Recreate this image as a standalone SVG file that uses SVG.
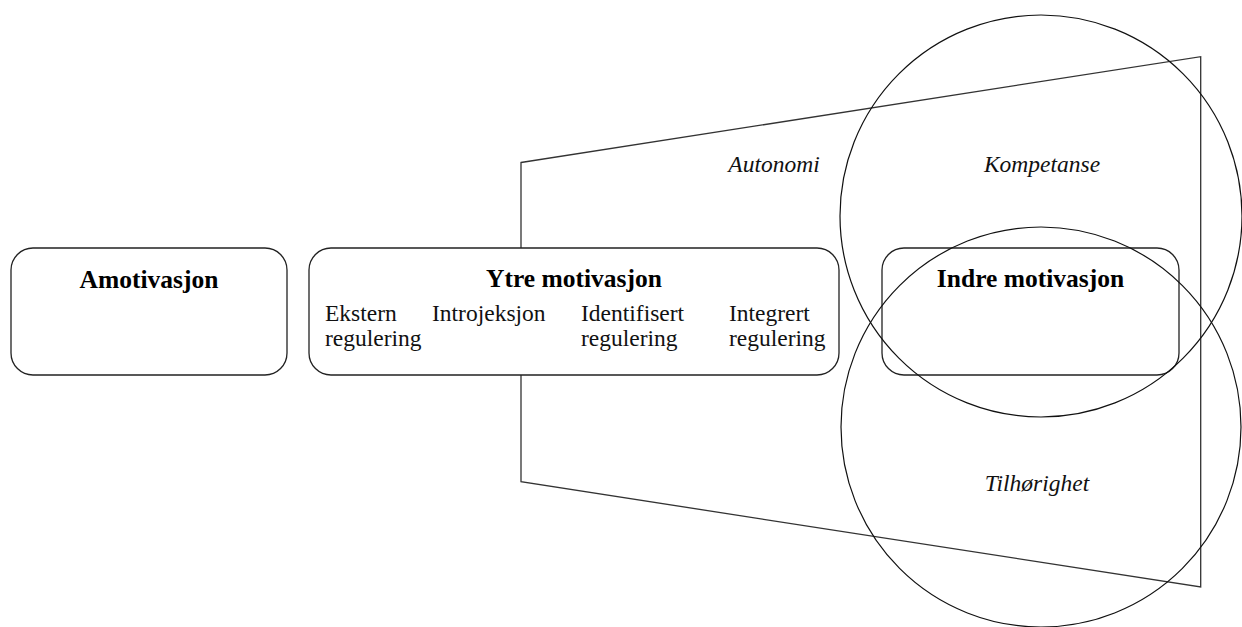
<svg xmlns="http://www.w3.org/2000/svg" width="1242" height="627" viewBox="0 0 1242 627">
<style>
.box{fill:#fff;stroke:#222;stroke-width:1.3}
.ln{fill:none;stroke:#333;stroke-width:1.3}
.circ{fill:none;stroke:#111;stroke-width:1.2}
.b{font-family:"Liberation Serif",serif;font-weight:bold;font-size:25.5px;fill:#000}
.r{font-family:"Liberation Serif",serif;font-size:23.5px;fill:#111}
.i{font-family:"Liberation Serif",serif;font-style:italic;font-size:23.5px;fill:#111}
</style>
<rect width="1242" height="627" fill="#fff"/>
<g id="trapezoid">
<polygon class="ln" points="521,162.5 1200.7,56.7 1200.7,587 521,481.7"/>
</g>
<g id="amotivasjon">
<rect class="box" x="11" y="248" width="276" height="127" rx="22"/>
<text class="b" x="149" y="288" text-anchor="middle">Amotivasjon</text>
</g>
<g id="ytre">
<rect class="box" x="309" y="248" width="530" height="127" rx="22"/>
<text class="b" x="574" y="287" text-anchor="middle">Ytre motivasjon</text>
<text class="r" x="325" y="321">Ekstern</text>
<text class="r" x="325" y="346">regulering</text>
<text class="r" x="432" y="321">Introjeksjon</text>
<text class="r" x="581" y="321">Identifisert</text>
<text class="r" x="581" y="346">regulering</text>
<text class="r" x="729" y="321">Integrert</text>
<text class="r" x="729" y="346">regulering</text>
</g>
<g id="indre">
<rect class="box" x="882" y="248" width="297" height="127" rx="22"/>
<text class="b" x="1030.5" y="287" text-anchor="middle">Indre motivasjon</text>
</g>
<g id="autonomi">
<text class="i" x="774" y="172" text-anchor="middle">Autonomi</text>
</g>
<g id="kompetanse">
<circle class="circ" cx="1041" cy="216" r="201"/>
<text class="i" x="1042" y="172" text-anchor="middle">Kompetanse</text>
</g>
<g id="tilhorighet">
<circle class="circ" cx="1041" cy="427" r="200"/>
<text class="i" x="1037" y="491" text-anchor="middle">Tilhørighet</text>
</g>
<g id="connectors"></g>
</svg>
